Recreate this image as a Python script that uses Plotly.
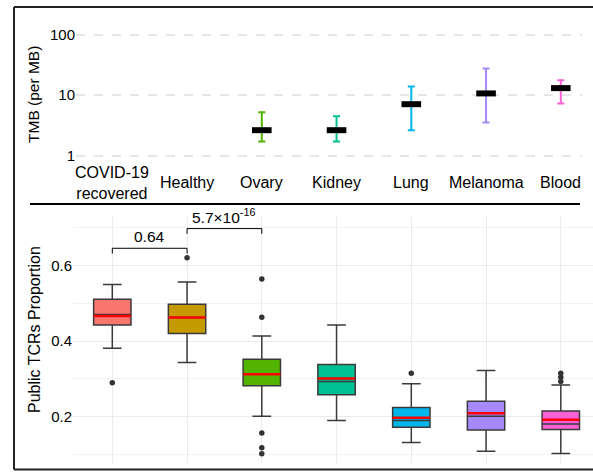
import plotly.graph_objects as go

# ---------------- data ----------------
categories = ["COVID-19<br>recovered", "Healthy", "Ovary", "Kidney", "Lung", "Melanoma", "Blood"]
colors = ["#F8766D", "#C49A00", "#53B400", "#00C094", "#00B6EB", "#A58AFF", "#FB61D7"]

tmb_groups = ["Ovary", "Kidney", "Lung", "Melanoma", "Blood"]
tmb_median = [2.64, 2.64, 7.1, 10.7, 13.1]
tmb_low = [1.72, 1.72, 2.64, 3.54, 7.3]
tmb_high = [5.24, 4.5, 13.9, 27.6, 17.7]

box_q1 = [0.442, 0.420, 0.282, 0.258, 0.172, 0.165, 0.166]
box_median = [0.470, 0.462, 0.312, 0.293, 0.190, 0.201, 0.181]
box_q3 = [0.510, 0.497, 0.352, 0.338, 0.224, 0.241, 0.215]
box_lower = [0.381, 0.343, 0.201, 0.190, 0.132, 0.109, 0.103]
box_upper = [0.549, 0.556, 0.413, 0.442, 0.287, 0.322, 0.284]
box_mean = [0.466, 0.462, 0.312, 0.301, 0.197, 0.209, 0.192]
box_outliers = [[0.290], [0.620], [0.564, 0.463, 0.157, 0.118, 0.102], [], [0.315], [], [0.315, 0.304, 0.293]]

# significance brackets
sig_from = [0, 1]
sig_to = [1, 2]
sig_height = [0.645, 0.697]
sig_drop = 0.014
sig_labels = ["0.64", "5.7×10<sup>-16</sup>"]

top_title = "TMB (per MB)"
bottom_title = "Public TCRs Proportion"

W, H = 593, 472
def py(p):
    return 1 - p / H
def px(p):
    return p / W

FONT = "Liberation Sans, Arial, sans-serif"
fig = go.Figure()

# ---------------- top panel: TMB ----------------
for g, m, lo, hi in zip(tmb_groups, tmb_median, tmb_low, tmb_high):
    i = categories.index(g)
    fig.add_trace(go.Scatter(
        x=[i], y=[m], mode="markers", xaxis="x", yaxis="y",
        marker=dict(symbol="line-ew", size=14, color="black",
                    line=dict(color="black", width=6)),
        error_y=dict(type="data", symmetric=False, array=[hi - m], arrayminus=[m - lo],
                     color=colors[i], thickness=2, width=3.5),
        showlegend=False, hoverinfo="skip"))

# ---------------- bottom panel: boxes ----------------
for i, c in enumerate(categories):
    fig.add_trace(go.Box(
        x=[i], q1=[box_q1[i]], median=[box_median[i]], q3=[box_q3[i]],
        lowerfence=[box_lower[i]], upperfence=[box_upper[i]],
        xaxis="x2", yaxis="y2", width=0.5, fillcolor=colors[i],
        line=dict(color="#3a3a3a", width=1.5), boxpoints=False,
        showlegend=False, hoverinfo="skip"))
    fig.add_trace(go.Scatter(
        x=[i - 0.25, i + 0.25], y=[box_mean[i], box_mean[i]], mode="lines",
        xaxis="x2", yaxis="y2", line=dict(color="#FF0000", width=2.5),
        showlegend=False, hoverinfo="skip"))
    if box_outliers[i]:
        fig.add_trace(go.Scatter(
            x=[i] * len(box_outliers[i]), y=box_outliers[i], mode="markers",
            xaxis="x2", yaxis="y2", marker=dict(color="#333333", size=5.5),
            showlegend=False, hoverinfo="skip"))

shapes = []
annotations = []
for a, b, h, lab in zip(sig_from, sig_to, sig_height, sig_labels):
    fig.add_trace(go.Scatter(
        x=[a, a, b, b], y=[h - sig_drop, h, h, h - sig_drop], mode="lines",
        xaxis="x2", yaxis="y2", line=dict(color="black", width=1),
        showlegend=False, hoverinfo="skip", cliponaxis=False))
    annotations.append(dict(x=(a + b) / 2, y=h, xref="x2", yref="y2", text=lab,
                            showarrow=False, yanchor="bottom", yshift=1,
                            font=dict(family=FONT, size=15.5, color="black")))

# x category labels (top panel)
for i, c in enumerate(categories):
    annotations.append(dict(x=i, y=py(183), xref="x", yref="paper", text=c,
                            showarrow=False, yanchor="middle", xanchor="center",
                            font=dict(family=FONT, size=16, color="black")))

# axis titles
annotations.append(dict(x=px(33), y=py(95), xref="paper", yref="paper", text=top_title,
                        textangle=-90, showarrow=False, xanchor="center", yanchor="middle",
                        font=dict(family=FONT, size=15.5, color="black")))
annotations.append(dict(x=px(34), y=py(330), xref="paper", yref="paper", text=bottom_title,
                        textangle=-90, showarrow=False, xanchor="center", yanchor="middle",
                        font=dict(family=FONT, size=16, color="black")))

# frame and separator
shapes.append(dict(type="line", xref="paper", yref="paper", x0=px(30), x1=px(580),
                   y0=py(204), y1=py(204), line=dict(color="black", width=2)))
shapes.append(dict(type="line", xref="paper", yref="paper", x0=px(14), x1=1.02,
                   y0=py(7), y1=py(7), line=dict(color="#222222", width=2)))
shapes.append(dict(type="line", xref="paper", yref="paper", x0=px(14), x1=1.02,
                   y0=py(469.5), y1=py(469.5), line=dict(color="#222222", width=2)))
shapes.append(dict(type="line", xref="paper", yref="paper", x0=px(14), x1=px(14),
                   y0=py(7), y1=py(469.5), line=dict(color="#222222", width=2)))

x0c, dxc = 112.3, 74.75
fig.update_layout(
    width=W, height=H, margin=dict(l=0, r=0, t=0, b=0),
    paper_bgcolor="white", plot_bgcolor="white",
    font=dict(family=FONT, size=15, color="black"),
    shapes=shapes, annotations=annotations,
    xaxis=dict(domain=[px(76), px(582)], range=[(76 - x0c) / dxc, (582 - x0c) / dxc],
               showgrid=False, zeroline=False, showticklabels=False, ticks="",
               anchor="y"),
    yaxis=dict(domain=[py(165), py(20)], type="log",
               range=[0 - (165 - 155.7) / 60.5, 2 + (34.7 - 20) / 60.5],
               tickvals=[1, 10, 100], ticktext=["1", "10", "100"],
               showgrid=True, gridcolor="#E6E6E6", gridwidth=1.5, griddash="dash",
               zeroline=False, ticks="", anchor="x",
               tickfont=dict(size=15, color="black")),
    xaxis2=dict(domain=[px(73), 1], range=[(73 - x0c) / dxc, (593 - x0c) / dxc],
                tickvals=list(range(len(categories))), showticklabels=False,
                showgrid=True, gridcolor="#EBEBEB", gridwidth=1, zeroline=False,
                ticks="", anchor="y2"),
    yaxis2=dict(domain=[py(463.3), py(217)],
                range=[0.2 - (463.3 - 416.5) / 380, 0.6 + (265.5 - 217) / 380],
                tickvals=[0.2, 0.4, 0.6], ticktext=["0.2", "0.4", "0.6"],
                showgrid=True, gridcolor="#EBEBEB", gridwidth=1.2, zeroline=False,
                minor=dict(tickvals=[0.1, 0.3, 0.5, 0.7], showgrid=True,
                           gridcolor="#F2F2F2", gridwidth=1, ticks=""),
                ticks="", anchor="x2",
                tickfont=dict(size=15, color="black")),
)

fig.write_html("out.html", config={"displayModeBar": False},
               post_script="document.body.style.margin='0px';document.body.style.overflow='hidden';")
